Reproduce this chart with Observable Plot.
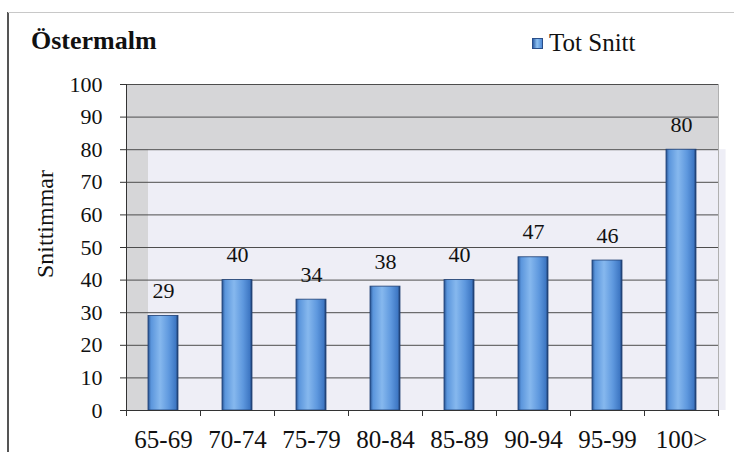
<!DOCTYPE html>
<html>
<head>
<meta charset="utf-8">
<script src="https://cdn.jsdelivr.net/npm/d3@7"></script>
<script src="https://cdn.jsdelivr.net/npm/@observablehq/plot@0.6"></script>
<style>
  body { margin: 0; background: #fff; }
  #wrap { position: relative; width: 734px; height: 452px; font-family: "Liberation Serif", "DejaVu Serif", "Noto Serif", serif; color: #111; overflow: hidden; }
  #wrap svg { position: absolute; left: 0; top: 0; }
  #border-left { position: absolute; left: 7px; top: 12px; width: 1.5px; height: 440px; background: #555; }
  #border-top { position: absolute; left: 8px; top: 12px; width: 726px; height: 1px; background: #c8c8c8; }
  #title { position: absolute; left: 31px; top: 26px; font-weight: bold; font-size: 26px; line-height: 30px; }
  #legend { position: absolute; left: 532px; top: 28px; font-size: 25px; line-height: 30px; display: flex; align-items: center; }
  #legend .sw { width: 9px; height: 9px; margin-right: 6px; background: linear-gradient(90deg, #2d5fa8, #8fc2f2 45%, #4f8ad6); border: 0.5px solid #2a4f8a; }
  #ylabel { position: absolute; left: 45px; top: 224px; font-size: 24px; transform: translate(-50%, -50%) rotate(-90deg); white-space: nowrap; }
</style>
</head>
<body>
<div id="wrap">
  <div id="border-left"></div>
  <div id="border-top"></div>
  <div id="title">Östermalm</div>
  <div id="legend"><span class="sw"></span><span>Tot Snitt</span></div>
  <div id="ylabel">Snittimmar</div>
</div>
<script>
// ---- data ----
const categories = ["65-69", "70-74", "75-79", "80-84", "85-89", "90-94", "95-99", "100>"];
const values = [29, 40, 34, 38, 40, 47, 46, 80];
const yTicks = [0, 10, 20, 30, 40, 50, 60, 70, 80, 90, 100];
const seriesName = "Tot Snitt";

const rows = categories.map((c, i) => ({category: c, value: values[i], series: seriesName}));
const maxValue = d3.max(values);

const W = 734, H = 452, ML = 126, MR = 16, MT = 84, MB = 42;
const step = (W - ML - MR) / categories.length;
const serif = "Liberation Serif, DejaVu Serif, Noto Serif, serif";

const chart = Plot.plot({
  width: W,
  height: H,
  marginLeft: ML,
  marginRight: MR,
  marginTop: MT,
  marginBottom: MB,
  style: {fontFamily: serif, fontSize: "22px", color: "#111", background: "transparent", overflow: "visible"},
  x: {domain: categories, paddingInner: 0.6, paddingOuter: 0.3, label: null},
  y: {domain: [0, 100], label: null},
  marks: [
    Plot.frame({fill: "#d6d6d8", stroke: null}),
    Plot.rect([maxValue], {x1: () => categories[0], x2: () => categories[categories.length - 1], y1: 0, y2: d => d, fill: "#eeeef6", insetRight: -step * 0.4}),
    Plot.gridY(yTicks, {stroke: "#4d4d4d", strokeOpacity: 1, strokeWidth: 1}),
    Plot.ruleX([categories[0]], {y1: 0, y2: 100, dx: -step / 2, stroke: "#333"}),
    Plot.ruleX([categories[categories.length - 1]], {y1: 0, y2: 100, dx: step / 2, stroke: "#b0b0b0"}),
    Plot.axisY(yTicks, {tickSize: 6, tickPadding: 18, fontSize: 22, fontFamily: serif, stroke: "#333", label: null}),
    Plot.axisX(categories, {tickSize: 6, dx: -step / 2, tickFormat: () => "", stroke: "#333", label: null}),
    Plot.axisX([categories[categories.length - 1]], {tickSize: 6, dx: step / 2, tickFormat: () => "", stroke: "#333", label: null}),
    Plot.axisX(categories, {tickSize: 0, tickPadding: 20, fontSize: 25, fontFamily: serif, label: null}),
    Plot.barY(rows, {x: "category", y: "value", fill: "url(#barGrad)", stroke: "#1f3f73", strokeWidth: 0.8}),
    Plot.ruleY([0], {stroke: "#333"}),
    Plot.text(rows, {x: "category", y: "value", text: d => String(d.value), dy: -25, fontSize: 22, fontFamily: serif, fill: "#111"})
  ]
});

// gradient definition for the bars
const ns = "http://www.w3.org/2000/svg";
const defs = document.createElementNS(ns, "defs");
defs.innerHTML = `
  <linearGradient id="barGrad" x1="0" x2="1" y1="0" y2="0">
    <stop offset="0%" stop-color="#27528f"/>
    <stop offset="10%" stop-color="#5a95dc"/>
    <stop offset="40%" stop-color="#86b8ee"/>
    <stop offset="70%" stop-color="#5e98de"/>
    <stop offset="92%" stop-color="#3f78c4"/>
    <stop offset="100%" stop-color="#1b3a6a"/>
  </linearGradient>`;
chart.insertBefore(defs, chart.firstChild);

document.getElementById("wrap").prepend(chart);
</script>
</body>
</html>
